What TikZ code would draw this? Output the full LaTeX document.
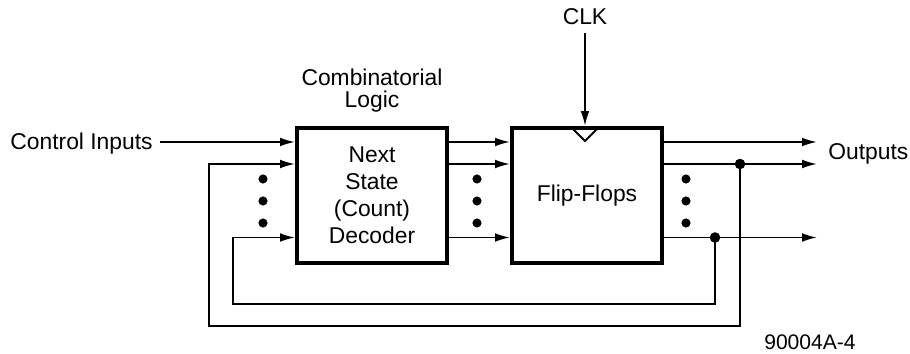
\documentclass[tikz,border=0pt]{standalone}
\usepackage{fontspec}
\setmainfont{Liberation Sans}
\usetikzlibrary{arrows.meta,positioning}

\tikzset{
  block/.style={draw,line width=2.3pt,minimum width=3cm,minimum height=2.7cm,
    align=center,inner sep=0pt,font=\fontsize{13}{15.3}\selectfont},
  wire/.style={line width=1.1pt},
  lbl/.style={font=\fontsize{13}{12.5}\selectfont,inner sep=0pt},
  vdot/.style={fill=black},
}

\begin{document}
\begin{tikzpicture}[x=0.02cm,y=-0.02cm,>={Latex[length=8.5pt,width=5pt]}]
  \useasboundingbox (0,0) rectangle (910,354);

  % Blocks
  \node[block] (dec) at (372,195.5) {Next\\State\\(Count)\\Decoder};
  \node[block] (ff) at (587,195.5) {Flip-Flops};
  \node[lbl,align=center] (comb) at (372,91) {Combinatorial\\Logic};

  % Signal rows
  \coordinate (r1) at (0,142);
  \coordinate (r2) at (0,164);
  \coordinate (r3) at (0,237.5);

  % Control inputs
  \node[lbl,anchor=east] (ctrl) at (153,144) {Control Inputs};
  \coordinate (cin) at (160,142);
  \draw[wire,->] (cin) -- (dec.west |- r1);

  % Decoder to flip-flops
  \foreach \r in {r1,r2,r3}
    \draw[wire,->] (dec.east |- \r) -- (ff.west |- \r);

  % Clock
  \node[lbl] (clk) at (585,17) {CLK};
  \coordinate (cks) at (585,33);
  \draw[wire,->] (cks) -- (cks |- ff.north);
  \draw[wire] (573,129) -- (585,141) -- (597,129);

  % Outputs
  \coordinate (oend) at (817,0);
  \foreach \r in {r1,r2,r3}
    \draw[wire,->] (ff.east |- \r) -- (oend |- \r);
  \node[lbl,anchor=west] (out) at (828,154) {Outputs};

  % Feedback
  \coordinate (j1) at (740,164);
  \coordinate (j2) at (715,237.5);
  \coordinate (lo1) at (209,326);
  \coordinate (lo2) at (233,304);
  \fill (j1) circle (3pt);
  \fill (j2) circle (3pt);
  \draw[wire,->] (j1) |- (lo1) |- (dec.west |- r2);
  \draw[wire,->] (j2) |- (lo2) |- (dec.west |- r3);

  % Ellipsis dots
  \foreach \x in {263,477,686}
    \foreach \y in {179,201,223}
      \fill[vdot] (\x,\y) circle (2.6pt);

  % Figure number
  \node[lbl,font=\fontsize{12}{14}\selectfont] (fig) at (810,342) {90004A-4};
\end{tikzpicture}
\end{document}
